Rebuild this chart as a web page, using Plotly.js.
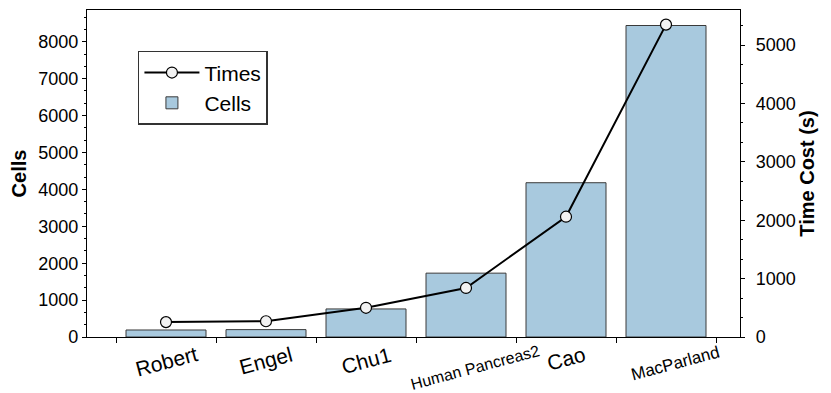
<!DOCTYPE html>
<html>
<head>
<meta charset="utf-8">
<script src="https://cdn.plot.ly/plotly-3.0.1.min.js"></script>
<style>
  html, body { margin: 0; padding: 0; background: #fff; }
  #myPlot { width: 831px; height: 393px; }
</style>
</head>
<body>
<div id="myPlot"></div>
<script>
// datasets on the x axis
var datasets = ['Robert', 'Engel', 'Chu1', 'Human Pancreas2', 'Cao', 'MacParland'];
// number of cells per dataset (left axis)
var cells = [190, 200, 760, 1730, 4180, 8440];
// time cost in seconds (right axis)
var times = [255, 270, 500, 840, 2060, 5350];
// font size of each x label (two long names are drawn smaller)
var labelSizes = [21, 21, 21, 16, 21, 17];

var font = 'Liberation Sans, Arial, Helvetica, sans-serif';

// line with markers for the times, drawn on the right axis
var Times = {
    type: 'scatter',
    x: datasets,
    y: times,
    yaxis: 'y2',
    mode: 'lines+markers',
    name: 'Times',
    line: { color: 'black', width: 2 },
    marker: {
        color: '#f2f2f2',
        size: 11,
        line: { color: 'black', width: 1.2 }
    }
}

// bars for the cells
var Cells = {
    type: 'bar',
    x: datasets,
    y: cells,
    name: 'Cells',
    marker: {
        color: '#a8c9de',
        line: { color: '#3a3a3a', width: 1 }
    }
}

var data = [Times, Cells]

// x labels are rotated and centred under each bar, so they are annotations
var labels = datasets.map(function (d, i) {
    var small = labelSizes[i] < 20;
    return {
        text: d,
        x: d,
        xref: 'x',
        y: 0,
        yref: 'paper',
        xanchor: 'center',
        yanchor: 'top',
        xshift: small ? 9 : 0,
        yshift: -3,
        textangle: -15,
        showarrow: false,
        font: { family: font, size: labelSizes[i], color: 'black' }
    }
})

var layout = {
    width: 831,
    height: 393,
    margin: { l: 87, r: 91, t: 10, b: 56 },
    paper_bgcolor: 'white',
    plot_bgcolor: 'white',
    font: { family: font, size: 18, color: 'black' },
    bargap: 0.2,
    showlegend: true,
    legend: {
        x: 0.078,
        y: 0.875,
        xanchor: 'left',
        yanchor: 'top',
        bgcolor: 'white',
        bordercolor: '#333',
        borderwidth: 1.5,
        itemwidth: 55,
        font: { family: font, size: 21 }
    },
    xaxis: {
        type: 'category',
        range: [-0.79, 5.74],
        tickson: 'boundaries',
        ticks: 'outside',
        ticklen: 5,
        tickcolor: 'black',
        showticklabels: false,
        showline: true,
        linecolor: 'black',
        linewidth: 1.2,
        mirror: true,
        showgrid: false,
        zeroline: false
    },
    yaxis: {
        range: [0, 8860],
        dtick: 1000,
        ticks: 'outside',
        ticklen: 4,
        tickcolor: 'black',
        tickfont: { size: 18 },
        showline: true,
        linecolor: 'black',
        linewidth: 1.2,
        showgrid: false,
        zeroline: false,
        minor: { dtick: 1000 / 3, ticks: 'outside', ticklen: 2, tickcolor: 'black' },
        title: { text: 'Cells', standoff: 6, font: { size: 20, weight: 'bold' } }
    },
    yaxis2: {
        overlaying: 'y',
        side: 'right',
        range: [0, 5600],
        dtick: 1000,
        ticks: 'outside',
        ticklen: 4,
        ticklabelstandoff: 7,
        tickcolor: 'black',
        tickfont: { size: 18 },
        showline: true,
        linecolor: 'black',
        linewidth: 1.2,
        showgrid: false,
        zeroline: false,
        minor: { dtick: 1000 / 3, ticks: 'outside', ticklen: 2, tickcolor: 'black' },
        title: { text: 'Time Cost (s)', standoff: 5, font: { size: 20, weight: 'bold' } }
    },
    annotations: labels
}

Plotly.newPlot('myPlot', data, layout, { displayModeBar: false });
</script>
</body>
</html>
